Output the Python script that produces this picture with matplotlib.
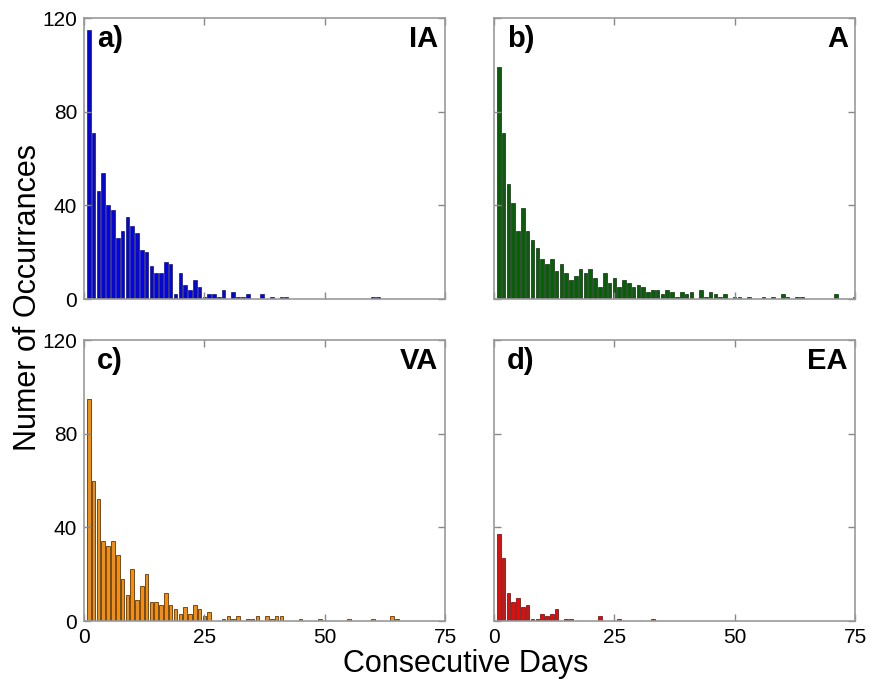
import matplotlib
matplotlib.use("Agg")
import matplotlib.pyplot as plt
import numpy as np

plt.rcParams['font.family'] = ['Liberation Sans', 'DejaVu Sans']

# run lengths (consecutive days) and how often each one occurs
ia_days = list(range(1, 30)) + [31, 32, 33, 34, 37, 39, 41, 42, 60, 61]
ia_counts = [115, 71, 46, 54, 40, 38, 26, 29, 35, 31, 28, 21, 20, 14, 11, 11, 16, 15, 2, 11,
             6, 4, 8, 5, 1, 2, 2, 1, 4,
             3, 1, 1, 2, 2, 1, 1, 1, 1, 1]

a_days = list(range(1, 42)) + [43, 44, 45, 46, 47, 48, 50, 51, 53, 56, 58, 60, 61, 63, 64, 71, 75]
a_counts = [99, 71, 49, 41, 29, 39, 29, 25, 22, 17, 15, 17, 12, 15, 11, 8, 10, 13, 11, 13,
            9, 5, 11, 7, 9, 5, 8, 7, 5, 6, 5, 3, 4, 4, 2, 4, 3, 1, 3, 2, 3,
            4, 1, 3, 2, 1, 2, 1, 1, 1, 1, 1, 2, 1, 1, 1, 2, 1]

va_days = list(range(1, 27)) + [29, 30, 31, 32, 34, 35, 36, 38, 39, 40, 41, 45, 49, 55, 60, 64, 65]
va_counts = [95, 60, 52, 34, 32, 34, 28, 18, 11, 22, 9, 15, 20, 8, 8, 7, 12, 7, 5, 3,
             6, 3, 7, 5, 2, 4,
             1, 2, 1, 2, 1, 1, 2, 2, 1, 2, 2, 1, 1, 1, 1, 2, 1]

ea_days = list(range(1, 14)) + [15, 16, 22, 26, 33]
ea_counts = [37, 27, 12, 8, 10, 6, 7, 1, 1, 3, 2, 3, 5, 1, 1, 2, 1, 1]

panels = [
    (ia_days, ia_counts, '#0000ff', 'a)', 'IA'),
    (a_days, a_counts, '#006400', 'b)', 'A'),
    (va_days, va_counts, '#ff8c00', 'c)', 'VA'),
    (ea_days, ea_counts, '#ff0000', 'd)', 'EA'),
]

fig = plt.figure(figsize=(8.7, 6.81), dpi=100)
lefts = [0.0966, 0.5678]
bottoms = [0.5609, 0.0881]
w, h = 0.415, 0.4126

for i, (days, counts, col, tag, name) in enumerate(panels):
    row, c = i // 2, i % 2
    ax = fig.add_axes([lefts[c], bottoms[row], w, h])
    ax.bar(days, counts, width=0.75, color=col, edgecolor='#202020', linewidth=0.5)
    ax.set_xlim(0, 75)
    ax.set_ylim(0, 120)
    ax.set_xticks([0, 25, 50, 75])
    ax.set_yticks([0, 40, 80, 120])
    ax.tick_params(direction='in', top=True, right=True, length=5, width=1,
                   color='#888888', labelsize=15, pad=5)
    if row == 0:
        ax.set_xticklabels([])
    if c == 1:
        ax.set_yticklabels([])
    for s in ax.spines.values():
        s.set_color('#999999')
        s.set_linewidth(1.2)
    ax.text(0.035, 0.975, tag, transform=ax.transAxes, ha='left', va='top',
            fontsize=21, fontweight='bold')
    ax.text(0.98, 0.975, name, transform=ax.transAxes, ha='right', va='top',
            fontsize=21, fontweight='bold')

fig.text(0.032, 1 - 297 / 681, 'Numer of Occurrances', rotation=90,
         ha='center', va='center', fontsize=22)
fig.text(0.535, 1 - 664 / 681, 'Consecutive Days', ha='center', va='center', fontsize=22)

fig.savefig('out.png', dpi=100)
